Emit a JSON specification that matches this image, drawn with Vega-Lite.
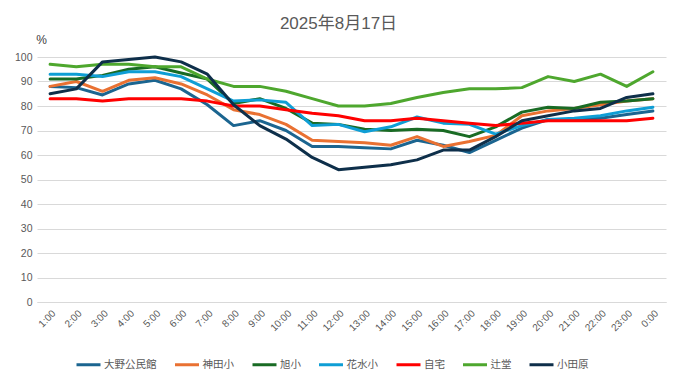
{
  "$schema": "https://vega.github.io/schema/vega-lite/v6.json",
  "width": 629,
  "height": 245,
  "autosize": {"type": "none"},
  "padding": {"left": 37, "top": 57, "right": 15, "bottom": 77},
  "background": "white",
  "title": {
    "text": "2025年8月17日",
    "anchor": "middle",
    "frame": "group",
    "dx": -13,
    "offset": 0,
    "fontSize": 17,
    "fontWeight": "normal",
    "font": "Liberation Sans, Noto Sans CJK JP",
    "color": "#595959"
  },
  "data": {
    "values": [
      {"t":"1:00","s":"大野公民館","v":88},{"t":"2:00","s":"大野公民館","v":87.5},{"t":"3:00","s":"大野公民館","v":84.5},{"t":"4:00","s":"大野公民館","v":89},{"t":"5:00","s":"大野公民館","v":90.5},{"t":"6:00","s":"大野公民館","v":87},{"t":"7:00","s":"大野公民館","v":80.5},{"t":"8:00","s":"大野公民館","v":72},{"t":"9:00","s":"大野公民館","v":74},{"t":"10:00","s":"大野公民館","v":70},{"t":"11:00","s":"大野公民館","v":63.5},{"t":"12:00","s":"大野公民館","v":63.5},{"t":"13:00","s":"大野公民館","v":63},{"t":"14:00","s":"大野公民館","v":62.5},{"t":"15:00","s":"大野公民館","v":66},{"t":"16:00","s":"大野公民館","v":64},{"t":"17:00","s":"大野公民館","v":61},{"t":"18:00","s":"大野公民館","v":66},{"t":"19:00","s":"大野公民館","v":71},{"t":"20:00","s":"大野公民館","v":74.5},{"t":"21:00","s":"大野公民館","v":74.5},{"t":"22:00","s":"大野公民館","v":75},{"t":"23:00","s":"大野公民館","v":76.5},{"t":"0:00","s":"大野公民館","v":78},
      {"t":"1:00","s":"神田小","v":88},{"t":"2:00","s":"神田小","v":90},{"t":"3:00","s":"神田小","v":86},{"t":"4:00","s":"神田小","v":90.5},{"t":"5:00","s":"神田小","v":91.5},{"t":"6:00","s":"神田小","v":89},{"t":"7:00","s":"神田小","v":84.5},{"t":"8:00","s":"神田小","v":78.5},{"t":"9:00","s":"神田小","v":76.5},{"t":"10:00","s":"神田小","v":72.5},{"t":"11:00","s":"神田小","v":66},{"t":"12:00","s":"神田小","v":65.5},{"t":"13:00","s":"神田小","v":65},{"t":"14:00","s":"神田小","v":64},{"t":"15:00","s":"神田小","v":67.5},{"t":"16:00","s":"神田小","v":63.5},{"t":"17:00","s":"神田小","v":65.5},{"t":"18:00","s":"神田小","v":68},{"t":"19:00","s":"神田小","v":76},{"t":"20:00","s":"神田小","v":78},{"t":"21:00","s":"神田小","v":79},{"t":"22:00","s":"神田小","v":80.5},{"t":"23:00","s":"神田小","v":82},{"t":"0:00","s":"神田小","v":83},
      {"t":"1:00","s":"旭小","v":91},{"t":"2:00","s":"旭小","v":91},{"t":"3:00","s":"旭小","v":92.5},{"t":"4:00","s":"旭小","v":95},{"t":"5:00","s":"旭小","v":96},{"t":"6:00","s":"旭小","v":93.5},{"t":"7:00","s":"旭小","v":91},{"t":"8:00","s":"旭小","v":81},{"t":"9:00","s":"旭小","v":83},{"t":"10:00","s":"旭小","v":79},{"t":"11:00","s":"旭小","v":73},{"t":"12:00","s":"旭小","v":72.5},{"t":"13:00","s":"旭小","v":70.5},{"t":"14:00","s":"旭小","v":70},{"t":"15:00","s":"旭小","v":70.5},{"t":"16:00","s":"旭小","v":70},{"t":"17:00","s":"旭小","v":67.5},{"t":"18:00","s":"旭小","v":71.5},{"t":"19:00","s":"旭小","v":77.5},{"t":"20:00","s":"旭小","v":79.5},{"t":"21:00","s":"旭小","v":79},{"t":"22:00","s":"旭小","v":81.5},{"t":"23:00","s":"旭小","v":82},{"t":"0:00","s":"旭小","v":83},
      {"t":"1:00","s":"花水小","v":93},{"t":"2:00","s":"花水小","v":93},{"t":"3:00","s":"花水小","v":92},{"t":"4:00","s":"花水小","v":94},{"t":"5:00","s":"花水小","v":94},{"t":"6:00","s":"花水小","v":92},{"t":"7:00","s":"花水小","v":87},{"t":"8:00","s":"花水小","v":82},{"t":"9:00","s":"花水小","v":82.5},{"t":"10:00","s":"花水小","v":81.5},{"t":"11:00","s":"花水小","v":72},{"t":"12:00","s":"花水小","v":72.5},{"t":"13:00","s":"花水小","v":69.5},{"t":"14:00","s":"花水小","v":71.5},{"t":"15:00","s":"花水小","v":75.5},{"t":"16:00","s":"花水小","v":73},{"t":"17:00","s":"花水小","v":72.5},{"t":"18:00","s":"花水小","v":68.5},{"t":"19:00","s":"花水小","v":72},{"t":"20:00","s":"花水小","v":74.5},{"t":"21:00","s":"花水小","v":75},{"t":"22:00","s":"花水小","v":76},{"t":"23:00","s":"花水小","v":78},{"t":"0:00","s":"花水小","v":79.5},
      {"t":"1:00","s":"自宅","v":83},{"t":"2:00","s":"自宅","v":83},{"t":"3:00","s":"自宅","v":82},{"t":"4:00","s":"自宅","v":83},{"t":"5:00","s":"自宅","v":83},{"t":"6:00","s":"自宅","v":83},{"t":"7:00","s":"自宅","v":82},{"t":"8:00","s":"自宅","v":80},{"t":"9:00","s":"自宅","v":80},{"t":"10:00","s":"自宅","v":78.5},{"t":"11:00","s":"自宅","v":77},{"t":"12:00","s":"自宅","v":76},{"t":"13:00","s":"自宅","v":74},{"t":"14:00","s":"自宅","v":74},{"t":"15:00","s":"自宅","v":75},{"t":"16:00","s":"自宅","v":74},{"t":"17:00","s":"自宅","v":73},{"t":"18:00","s":"自宅","v":72},{"t":"19:00","s":"自宅","v":73},{"t":"20:00","s":"自宅","v":74},{"t":"21:00","s":"自宅","v":74},{"t":"22:00","s":"自宅","v":74},{"t":"23:00","s":"自宅","v":74},{"t":"0:00","s":"自宅","v":75},
      {"t":"1:00","s":"辻堂","v":97},{"t":"2:00","s":"辻堂","v":96},{"t":"3:00","s":"辻堂","v":97},{"t":"4:00","s":"辻堂","v":97},{"t":"5:00","s":"辻堂","v":96},{"t":"6:00","s":"辻堂","v":96},{"t":"7:00","s":"辻堂","v":91},{"t":"8:00","s":"辻堂","v":88},{"t":"9:00","s":"辻堂","v":88},{"t":"10:00","s":"辻堂","v":86},{"t":"11:00","s":"辻堂","v":83},{"t":"12:00","s":"辻堂","v":80},{"t":"13:00","s":"辻堂","v":80},{"t":"14:00","s":"辻堂","v":81},{"t":"15:00","s":"辻堂","v":83.5},{"t":"16:00","s":"辻堂","v":85.5},{"t":"17:00","s":"辻堂","v":87},{"t":"18:00","s":"辻堂","v":87},{"t":"19:00","s":"辻堂","v":87.5},{"t":"20:00","s":"辻堂","v":92},{"t":"21:00","s":"辻堂","v":90},{"t":"22:00","s":"辻堂","v":93},{"t":"23:00","s":"辻堂","v":88},{"t":"0:00","s":"辻堂","v":94},
      {"t":"1:00","s":"小田原","v":85},{"t":"2:00","s":"小田原","v":87},{"t":"3:00","s":"小田原","v":98},{"t":"4:00","s":"小田原","v":99},{"t":"5:00","s":"小田原","v":100},{"t":"6:00","s":"小田原","v":98},{"t":"7:00","s":"小田原","v":93},{"t":"8:00","s":"小田原","v":80.5},{"t":"9:00","s":"小田原","v":72},{"t":"10:00","s":"小田原","v":66.5},{"t":"11:00","s":"小田原","v":59},{"t":"12:00","s":"小田原","v":54},{"t":"13:00","s":"小田原","v":55},{"t":"14:00","s":"小田原","v":56},{"t":"15:00","s":"小田原","v":58},{"t":"16:00","s":"小田原","v":62},{"t":"17:00","s":"小田原","v":62},{"t":"18:00","s":"小田原","v":67.5},{"t":"19:00","s":"小田原","v":74},{"t":"20:00","s":"小田原","v":76},{"t":"21:00","s":"小田原","v":78},{"t":"22:00","s":"小田原","v":79},{"t":"23:00","s":"小田原","v":83.5},{"t":"0:00","s":"小田原","v":85}
    ]
  },
  "mark": {"type": "line", "strokeWidth": 3, "strokeJoin": "round", "strokeCap": "round"},
  "encoding": {
    "x": {
      "field": "t",
      "type": "ordinal",
      "sort": ["1:00","2:00","3:00","4:00","5:00","6:00","7:00","8:00","9:00","10:00","11:00","12:00","13:00","14:00","15:00","16:00","17:00","18:00","19:00","20:00","21:00","22:00","23:00","0:00"],
      "scale": {"type": "point", "padding": 0.5},
      "axis": {
        "title": null,
        "labelAngle": -45,
        "labelFontSize": 10,
        "labelFont": "Liberation Sans",
        "labelColor": "#595959",
        "labelPadding": 6,
        "ticks": false,
        "grid": false,
        "domainColor": "#D9D9D9"
      }
    },
    "y": {
      "field": "v",
      "type": "quantitative",
      "scale": {"domain": [0, 100], "nice": false, "zero": true},
      "axis": {
        "title": "%",
        "titleAngle": 0,
        "titleX": 4,
        "titleY": -18,
        "titleAlign": "center",
        "titleBaseline": "middle",
        "titleFontSize": 12,
        "titleFontWeight": "normal",
        "titleFont": "Liberation Sans",
        "titleColor": "#404040",
        "values": [0,10,20,30,40,50,60,70,80,90,100],
        "domain": false,
        "ticks": false,
        "gridColor": "#D9D9D9",
        "labelPadding": 5,
        "labelFontSize": 10.5,
        "labelFont": "Liberation Sans",
        "labelColor": "#595959"
      }
    },
    "color": {
      "field": "s",
      "type": "nominal",
      "sort": ["大野公民館","神田小","旭小","花水小","自宅","辻堂","小田原"],
      "scale": {
        "domain": ["大野公民館","神田小","旭小","花水小","自宅","辻堂","小田原"],
        "range": ["#1B6590","#E97132","#196B24","#0F9ED5","#FF0000","#4EA72E","#0E2F4A"]
      },
      "legend": {
        "title": null,
        "orient": "none",
        "legendX": 38,
        "legendY": 294,
        "direction": "horizontal",
        "columns": 7,
        "padding": 0,
        "symbolType": "stroke",
        "symbolSize": 576,
        "symbolStrokeWidth": 3,
        "labelOffset": 2,
        "columnPadding": 11.5,
        "labelFontSize": 10.5,
        "labelFont": "Noto Sans CJK JP",
        "labelColor": "#595959"
      }
    }
  },
  "config": {
    "view": {"stroke": null}
  }
}
